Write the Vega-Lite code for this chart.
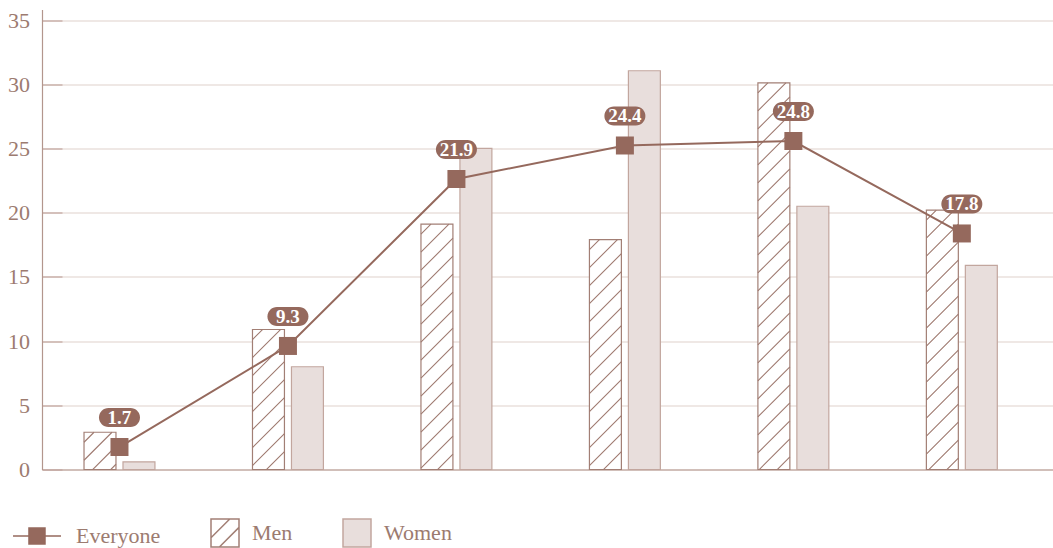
{
  "$schema": "https://vega.github.io/schema/vega-lite/v6.json",
  "width": 1011,
  "height": 460,
  "autosize": {"type": "none"},
  "padding": {"left": 42, "top": 9.5, "right": 0, "bottom": 78.5},
  "background": "#ffffff",
  "config": {"view": {"stroke": null}, "font": "Liberation Serif"},
  "data": {
    "values": [
      {"group": "1", "series": "Men", "value": 2.9},
      {"group": "1", "series": "Women", "value": 0.6},
      {"group": "1", "series": "Everyone", "value": 1.75, "label": "1.7"},
      {"group": "2", "series": "Men", "value": 10.9},
      {"group": "2", "series": "Women", "value": 8.0},
      {"group": "2", "series": "Everyone", "value": 9.62, "label": "9.3"},
      {"group": "3", "series": "Men", "value": 19.1},
      {"group": "3", "series": "Women", "value": 25.0},
      {"group": "3", "series": "Everyone", "value": 22.62, "label": "21.9"},
      {"group": "4", "series": "Men", "value": 17.9},
      {"group": "4", "series": "Women", "value": 31.05},
      {"group": "4", "series": "Everyone", "value": 25.23, "label": "24.4"},
      {"group": "5", "series": "Men", "value": 30.1},
      {"group": "5", "series": "Women", "value": 20.5},
      {"group": "5", "series": "Everyone", "value": 25.58, "label": "24.8"},
      {"group": "6", "series": "Men", "value": 20.2},
      {"group": "6", "series": "Women", "value": 15.9},
      {"group": "6", "series": "Everyone", "value": 18.38, "label": "17.8"}
    ]
  },
  "encoding": {
    "x": {
      "field": "group",
      "type": "nominal",
      "sort": null,
      "scale": {"paddingInner": 0.579, "paddingOuter": 0.29, "align": 0.43},
      "axis": {"labels": false, "ticks": false, "title": null, "grid": false, "domainColor": "#b3968d", "domainWidth": 1.2}
    },
    "y": {
      "field": "value",
      "type": "quantitative",
      "scale": {"domain": [0, 35.82], "nice": false, "zero": true},
      "axis": {
        "values": [0, 5, 10, 15, 20, 25, 30, 35],
        "title": null,
        "domainColor": "#b3968d",
        "domainWidth": 1.2,
        "tickColor": "#c2a69e",
        "tickSize": -20,
        "tickWidth": 1.2,
        "labelPadding": 32.5,
        "gridColor": "#e0d1cc",
        "gridWidth": 1.2,
        "labelFont": "Liberation Serif",
        "labelFontSize": 22,
        "labelColor": "#9c7b70"
      }
    }
  },
  "layer": [
    {
      "transform": [{"filter": "datum.series !== 'Everyone'"}],
      "mark": {"type": "bar", "strokeWidth": 1.2},
      "encoding": {
        "xOffset": {"field": "series", "type": "nominal", "scale": {"domain": ["Men", "Women"], "paddingInner": 0.18, "paddingOuter": 0}},
        "fill": {
          "field": "series",
          "type": "nominal",
          "scale": {"domain": ["Everyone", "Men", "Women"], "range": ["#95695d", "#ffffff", "#e8dedc"]}
        },
        "stroke": {
          "field": "series",
          "type": "nominal",
          "scale": {"domain": ["Everyone", "Men", "Women"], "range": ["#95695d", "#a27f75", "#c2a69e"]}
        }
      }
    },
    {
      "transform": [{"filter": "datum.series === 'Men'"}],
      "mark": {
        "type": "point",
        "shape": "M-6,0L-16,10M12,0L-16,28M16,14L-16,46M16,32L-16,64M16,50L-16,82M16,68L-16,100M16,86L-16,118M16,104L-16,136M16,122L-16,154M16,140L-16,172M16,158L-16,190M16,176L-16,208M16,194L-16,226M16,212L-16,244M16,230L-16,262M16,248L-16,280M16,266L-16,298M16,284L-16,316M16,302L-16,334M16,320L-16,352M16,338L-16,370M16,356L-16,388M16,374L-16,406M16,392L-16,424M16,410L-16,442",
        "size": 4,
        "filled": false,
        "color": "#9f7a70",
        "strokeWidth": 1.1,
        "opacity": 1,
        "clip": true
      },
      "encoding": {
        "xOffset": {"field": "series", "type": "nominal"}
      }
    },
    {
      "mark": {"type": "point", "filled": true, "opacity": 0, "size": 784, "strokeWidth": 1.5},
      "encoding": {
        "fill": {
          "field": "series",
          "type": "nominal",
          "legend": {
            "orient": "none",
            "legendX": -8,
            "legendY": 508.5,
            "direction": "horizontal",
            "title": null,
            "padding": 0,
            "symbolSize": 784,
            "symbolStrokeWidth": 1.5,
            "symbolOpacity": 1,
            "labelOffset": 12,
            "columnPadding": 47,
            "labelFont": "Liberation Serif",
            "labelFontSize": 22,
            "labelColor": "#9c7b70"
          }
        },
        "stroke": {"field": "series", "type": "nominal"},
        "shape": {
          "field": "series",
          "type": "nominal",
          "scale": {
            "domain": ["Everyone", "Men", "Women"],
            "range": ["M-2.57,0H0.857M-1.43,-0.571H-0.286V0.571H-1.43Z", "M-1,-1H1V1H-1ZM-1,0.34L0.34,-1M-0.4,1L1,-0.4", "square"]
          }
        }
      }
    },
    {
      "transform": [{"filter": "datum.series === 'Everyone'"}],
      "mark": {"type": "line", "color": "#95695d", "strokeWidth": 2},
      "encoding": {}
    },
    {
      "transform": [{"filter": "datum.series === 'Everyone'"}],
      "mark": {"type": "point", "shape": "square", "size": 324, "filled": true, "color": "#95695d", "opacity": 1},
      "encoding": {}
    },
    {
      "transform": [{"filter": "datum.series === 'Everyone'"}],
      "mark": {"type": "point", "shape": "M-11,-39H11A9.5,9.5,0,0,1,11,-20H-11A9.5,9.5,0,0,1,-11,-39Z", "size": 4, "filled": true, "color": "#95695d", "opacity": 1},
      "encoding": {}
    },
    {
      "transform": [{"filter": "datum.series === 'Everyone'"}],
      "mark": {"type": "text", "dy": -29, "fontSize": 19, "fontWeight": "bold", "color": "#ffffff", "font": "Liberation Serif", "baseline": "middle", "align": "center"},
      "encoding": {"text": {"field": "label"}}
    }
  ]
}
